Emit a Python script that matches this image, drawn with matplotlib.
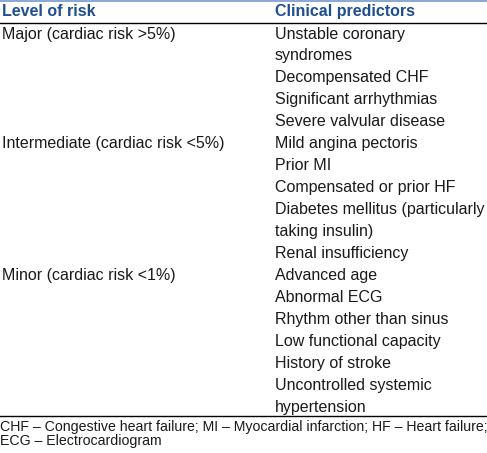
import matplotlib.pyplot as plt

plt.rcParams['font.family'] = ['Liberation Sans', 'DejaVu Sans']

headers = ["Level of risk", "Clinical predictors"]
levels = ["Major (cardiac risk >5%)",
          "Intermediate (cardiac risk <5%)",
          "Minor (cardiac risk <1%)"]
predictors = [
    ["Unstable coronary\nsyndromes", "Decompensated CHF",
     "Significant arrhythmias", "Severe valvular disease"],
    ["Mild angina pectoris", "Prior MI", "Compensated or prior HF",
     "Diabetes mellitus (particularly\ntaking insulin)", "Renal insufficiency"],
    ["Advanced age", "Abnormal ECG", "Rhythm other than sinus",
     "Low functional capacity", "History of stroke",
     "Uncontrolled systemic\nhypertension"],
]
footnote = ["CHF \u2013 Congestive heart failure; MI \u2013 Myocardial infarction; HF \u2013 Heart failure;",
            "ECG \u2013 Electrocardiogram"]

W, H = 487, 453
fig = plt.figure(figsize=(W / 100, H / 100), dpi=100)
ax = fig.add_axes([0, 0, 1, 1])
ax.set_xlim(0, W)
ax.set_ylim(H, 0)
ax.axis('off')

HEAD_COL = '#1d4f91'
X1, X2 = 2, 275
FS = 11.5
STEP = 21.95

# top band and rules
ax.axhspan(0, 2.2, color='#8da8d6', lw=0)
ax.plot([0, W], [22.5, 22.5], color='black', lw=1.0)

ax.text(X1, 11.5, headers[0], color=HEAD_COL, fontsize=FS, fontweight='bold', va='center')
ax.text(X2, 11.5, headers[1], color=HEAD_COL, fontsize=FS, fontweight='bold', va='center')

y = 34
for lvl, items in zip(levels, predictors):
    ax.text(X1, y, lvl, fontsize=FS, va='center', color='#1a1a1a')
    for it in items:
        for line in it.split('\n'):
            ax.text(X2, y, line, fontsize=FS, va='center', color='#1a1a1a')
            y += STEP

ax.plot([0, W], [415.5, 415.5], color='black', lw=1.0)
ax.text(0, 427, footnote[0], fontsize=10.2, va='center', color='#1a1a1a')
ax.text(0, 441, footnote[1], fontsize=10.2, va='center', color='#1a1a1a')

fig.savefig('out.png', dpi=100)
